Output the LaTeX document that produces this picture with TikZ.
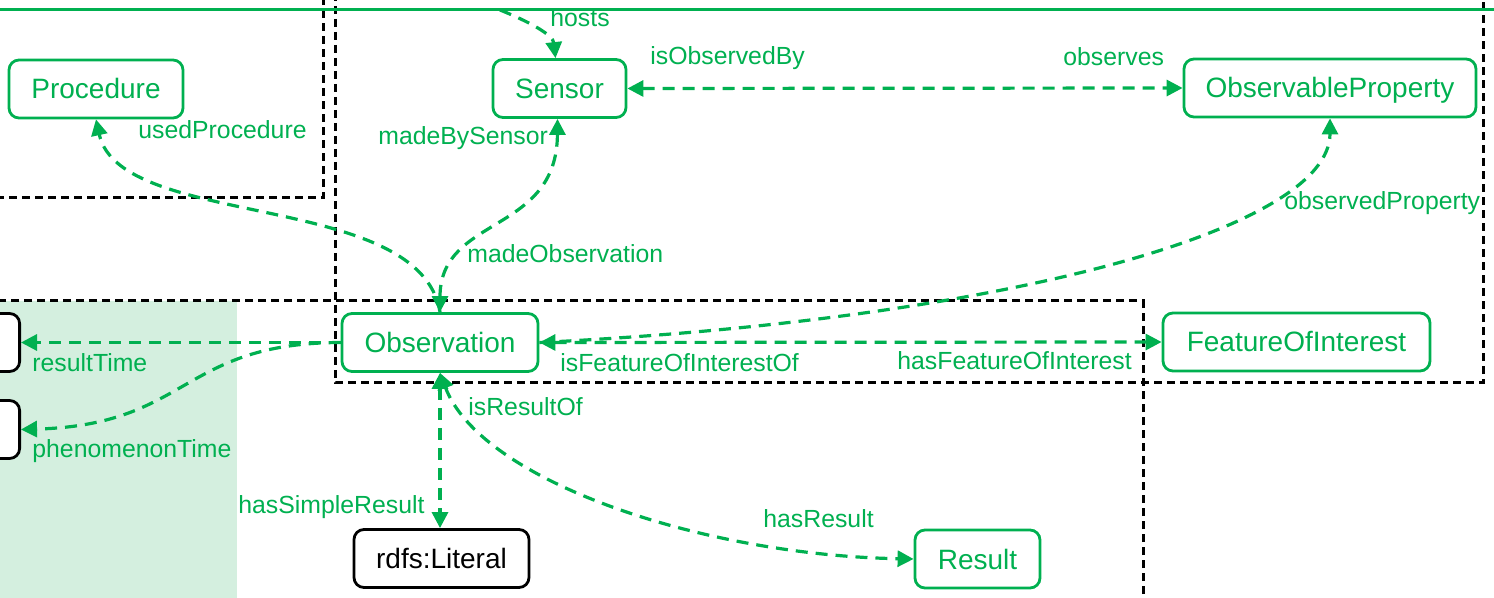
\documentclass[tikz,border=0pt]{standalone}
\usepackage{fontspec}
\setmainfont{Liberation Sans}
\usetikzlibrary{arrows.meta}
\definecolor{sosagreen}{RGB}{0,176,80}
\definecolor{sosashade}{RGB}{212,239,223}

\begin{document}
\begin{tikzpicture}[x=0.5pt,y=-0.5pt]
        \tikzstyle{class} = [rectangle, rounded corners=5pt, draw=sosagreen, line width=1.4pt, fill=white, text=sosagreen, minimum height=29pt, inner sep=0pt, text height=10pt, text depth=0pt, font=\fontsize{14}{16}\selectfont]
        \tikzstyle{datatype} = [class, draw=black, text=black]
        \tikzstyle{module} = [draw=black, line width=1.5pt, dash pattern=on 4pt off 2.5pt]
        \tikzstyle{prop} = [draw=sosagreen, line width=1.6pt, dash pattern=on 6pt off 4pt]
        \tikzstyle{propto} = [prop, -{Triangle[length=8pt,width=8pt]}]
        \tikzstyle{propboth} = [prop, {Triangle[length=8pt,width=8pt]}-{Triangle[length=8pt,width=8pt]}]
        \tikzstyle{proplabel} = [text=sosagreen, inner sep=0pt, anchor=base west, font=\fontsize{12.4}{14}\selectfont]
        \clip (0,0) rectangle (1494,598);
        \fill[sosashade] (0,301) rectangle (237,610);
        \draw[module] (-20,-20) rectangle (323,198);
        \draw[module] (335,-20) rectangle (1483,383);
        \draw[module] (-20,301) rectangle (1143,620);
        \node (procedure) [class, minimum width=87pt] at (96,89) {Procedure};
        \node (sensor) [class, minimum width=66.5pt] at (559.5,88.5) {Sensor};
        \node (obsprop) [class, minimum width=146pt] at (1330,88) {ObservableProperty};
        \node (observation) [class, minimum width=98pt] at (440,342.5) {Observation};
        \node (foi) [class, minimum width=133.5pt] at (1296.5,342) {FeatureOfInterest};
        \node (literal) [datatype, minimum width=87.5pt] at (441.5,558.5) {rdfs:Literal};
        \node (result) [class, minimum width=62.5pt] at (977.5,559) {Result};
        \node (restime) [datatype, minimum width=50pt, anchor=east] at (21,342.5) {};
        \node (phentime) [datatype, minimum width=50pt, anchor=east] at (21,429.5) {};
        \coordinate (platform) at (500,10);
        \draw[propto] (platform) .. controls (530,22) and (553,35) .. ([xshift=-2pt]sensor.north);
        \draw[propboth] (sensor.east) -- (obsprop.west);
        \draw[propto] (observation.north) .. controls (420,190) and (120,230) .. (procedure.south);
        \draw[propboth] (observation.north) .. controls (440,215) and (557,235) .. ([xshift=-1pt]sensor.south);
        \draw[propto] (observation.east) .. controls (1000,320) and (1330,230) .. (obsprop.south);
        \draw[propboth] (observation.east) -- (foi.west);
        \draw[propto] (observation.west) -- (restime.east);
        \draw[propto] (observation.west) .. controls (180,343) and (190,425) .. (phentime.east);
        \draw[propboth] (observation.south) -- (observation.south |- literal.north);
        \draw[propboth] (observation.south) .. controls (480,480) and (700,555) .. (result.west);
        \draw[sosagreen, line width=1.5pt] (0,10) -- (1494,10);
        \node (hostslbl) [proplabel] at (550,27) {hosts};
        \node (isobservedbylbl) [proplabel] at (650,65) {isObservedBy};
        \node (observeslbl) [proplabel] at (1063,66) {observes};
        \node (usedprocedurelbl) [proplabel] at (138,139) {usedProcedure};
        \node (madebysensorlbl) [proplabel] at (378,145) {madeBySensor};
        \node (madeobservationlbl) [proplabel] at (467,263) {madeObservation};
        \node (observedpropertylbl) [proplabel] at (1284,210) {observedProperty};
        \node (isfoiolbl) [proplabel] at (560,372) {isFeatureOfInterestOf};
        \node (hasfoilbl) [proplabel] at (897,370) {hasFeatureOfInterest};
        \node (resulttimelbl) [proplabel] at (32,372) {resultTime};
        \node (phenomenontimelbl) [proplabel] at (32,458) {phenomenonTime};
        \node (isresultoflbl) [proplabel] at (468,416) {isResultOf};
        \node (hassimpleresultlbl) [proplabel] at (238,513) {hasSimpleResult};
        \node (hasresultlbl) [proplabel] at (763,527) {hasResult};
\end{tikzpicture}
\end{document}
